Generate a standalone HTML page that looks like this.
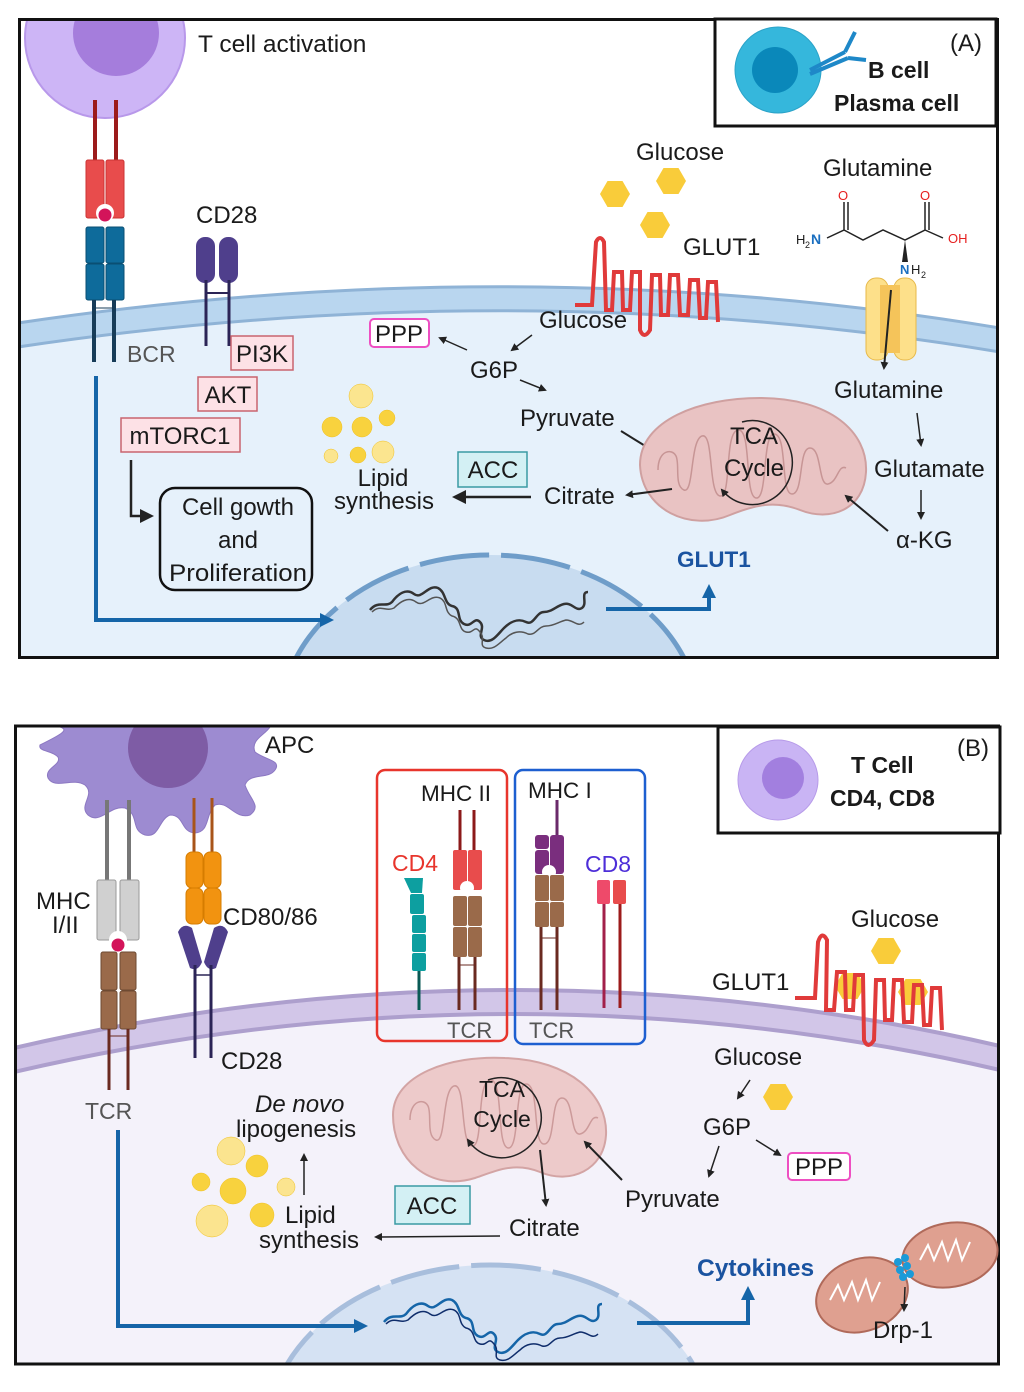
<!DOCTYPE html>
<html><head><meta charset="utf-8"><style>
html,body{margin:0;padding:0;background:#fff;width:1024px;height:1392px;overflow:hidden}
svg{display:block}
text{font-family:"Liberation Sans",sans-serif;fill:#1a1a1a}
</style></head><body>
<svg width="1024" height="1392" viewBox="0 0 1024 1392" xmlns="http://www.w3.org/2000/svg">
<defs>
<clipPath id="cA"><rect x="20" y="20" width="976" height="636"/></clipPath>
<clipPath id="cB"><rect x="16" y="727" width="982" height="636"/></clipPath>
<marker id="ah" markerWidth="8" markerHeight="8" refX="6" refY="4" orient="auto" markerUnits="userSpaceOnUse"><path d="M0,0 L8,4 L0,8 z" fill="#222"/></marker>
<marker id="ahB" markerWidth="14" markerHeight="14" refX="10" refY="7" orient="auto" markerUnits="userSpaceOnUse"><path d="M0,0 L14,7 L0,14 z" fill="#1565a8"/></marker>
<marker id="ahK" markerWidth="14" markerHeight="14" refX="10" refY="7" orient="auto" markerUnits="userSpaceOnUse"><path d="M0,0 L14,7 L0,14 z" fill="#222"/></marker>
<g id="hex"><polygon points="-15,0 -7.5,-13 7.5,-13 15,0 7.5,13 -7.5,13" fill="#f9cc3a"/></g>
</defs>

<!-- ================= PANEL A ================= -->
<g clip-path="url(#cA)">
<rect x="20" y="20" width="976" height="636" fill="#fff"/>
<path d="M18,335 Q520,260 1000,340 L1000,660 L18,660 z" fill="#e6f1fb"/>
<path d="M18,335 Q520,260 1000,340" fill="none" stroke="#b9d6ef" stroke-width="26"/>
<path d="M18,323 Q520,248 1000,328" fill="none" stroke="#8fb3d6" stroke-width="3"/>
<path d="M18,347 Q520,272 1000,352" fill="none" stroke="#8fb3d6" stroke-width="3"/>
<ellipse cx="490" cy="722" rx="210" ry="167" fill="#c8dcf0" stroke="#6f9dc9" stroke-width="5" stroke-dasharray="70,12"/>
<path d="M370,610 c8,-10 16,-2 22,-8 c6,-8 14,-14 22,-8 c8,6 14,-10 24,-6 c8,4 6,16 14,18 c10,2 4,14 12,18 c8,4 10,-8 16,-2 c6,6 -4,14 4,18 c8,4 14,-6 20,-12 c6,-6 14,-10 22,-6 c8,4 10,-10 18,-10 c8,0 12,-6 20,-8 c8,-2 12,8 18,4 c6,-4 -2,-16 6,-16" fill="none" stroke="#333" stroke-width="2.5"/>
<path d="M372,612 c8,-8 14,0 22,-4 c6,-6 14,-12 22,-6 c8,6 14,-8 24,-4 c8,4 4,14 12,18 c10,2 6,14 14,16 c8,2 8,-8 14,0 c6,6 -2,14 6,16 c8,2 12,-4 20,-10 c6,-6 14,-8 22,-4 c8,2 10,-8 18,-8 c8,0 12,-4 20,-6 c8,0 12,8 18,2" fill="none" stroke="#555" stroke-width="1.5"/>
<circle cx="105" cy="38" r="80" fill="#cdb5f6" stroke="#b898ea" stroke-width="2"/>
<circle cx="116" cy="33" r="43" fill="#a57ddc"/>
</g>
<rect x="19.5" y="19.5" width="978" height="638" fill="none" stroke="#111" stroke-width="3"/>
<text x="198" y="52" font-size="24.5">T cell activation</text>

<line x1="95" y1="100" x2="95" y2="165" stroke="#9c1b1b" stroke-width="4"/>
<line x1="116" y1="100" x2="116" y2="165" stroke="#9c1b1b" stroke-width="4"/>
<rect x="86" y="160" width="18" height="58" rx="2" fill="#e84c4c" stroke="#c33" stroke-width="1"/>
<rect x="106" y="160" width="18" height="58" rx="2" fill="#e84c4c" stroke="#c33" stroke-width="1"/>
<circle cx="105" cy="213" r="9" fill="#fff"/>
<circle cx="105" cy="215" r="6.5" fill="#d3145a"/>
<rect x="86" y="227" width="18" height="36" rx="2" fill="#0e6b9b" stroke="#0a4f73"/>
<rect x="106" y="227" width="18" height="36" rx="2" fill="#0e6b9b" stroke="#0a4f73"/>
<rect x="86" y="264" width="18" height="36" rx="2" fill="#0e6b9b" stroke="#0a4f73"/>
<rect x="106" y="264" width="18" height="36" rx="2" fill="#0e6b9b" stroke="#0a4f73"/>
<line x1="94" y1="300" x2="94" y2="362" stroke="#173c58" stroke-width="4"/>
<line x1="114" y1="300" x2="114" y2="362" stroke="#173c58" stroke-width="4"/>
<line x1="94" y1="308" x2="114" y2="308" stroke="#173c58" stroke-width="1"/>
<text x="127" y="362" font-size="23" style="fill:#555">BCR</text>
<text x="196" y="223" font-size="24">CD28</text>
<rect x="196" y="237" width="19" height="46" rx="9" fill="#4f3f8c"/>
<rect x="219" y="237" width="19" height="46" rx="9" fill="#4f3f8c"/>
<line x1="206" y1="280" x2="206" y2="346" stroke="#2b2456" stroke-width="3"/>
<line x1="229" y1="280" x2="229" y2="346" stroke="#2b2456" stroke-width="3"/>
<line x1="206" y1="293" x2="229" y2="293" stroke="#2b2456" stroke-width="2"/>
<rect x="231" y="336" width="62" height="34" fill="#fde1e6" stroke="#c8646f" stroke-width="1.5"/>
<text x="262" y="362" font-size="24" text-anchor="middle">PI3K</text>
<rect x="198" y="377" width="59" height="34" fill="#fde1e6" stroke="#c8646f" stroke-width="1.5"/>
<text x="228" y="403" font-size="24" text-anchor="middle">AKT</text>
<rect x="121" y="418" width="119" height="34" fill="#fde1e6" stroke="#c8646f" stroke-width="1.5"/>
<text x="180" y="444" font-size="24" text-anchor="middle">mTORC1</text>
<path d="M131,460 L131,516 L150,516" fill="none" stroke="#222" stroke-width="2.5" marker-end="url(#ahK)"/>
<rect x="160" y="488" width="152" height="102" rx="15" fill="none" stroke="#111" stroke-width="2.5"/>
<text x="238" y="515" font-size="24" text-anchor="middle">Cell gowth</text>
<text x="238" y="548" font-size="24" text-anchor="middle">and</text>
<text x="238" y="581" font-size="24" text-anchor="middle" textLength="138" lengthAdjust="spacingAndGlyphs">Proliferation</text>
<path d="M96,376 L96,620 L330,620" fill="none" stroke="#1565a8" stroke-width="4" marker-end="url(#ahB)"/>
<g fill="#f8d23e" stroke="#f0c020" stroke-width="0.5">
<circle cx="361" cy="396" r="12" fill="#fbe58f"/>
<circle cx="332" cy="427" r="10"/>
<circle cx="362" cy="427" r="10"/>
<circle cx="387" cy="418" r="8"/>
<circle cx="331" cy="456" r="7" fill="#fbe58f"/>
<circle cx="358" cy="455" r="8"/>
<circle cx="383" cy="452" r="11" fill="#fbe58f"/>
</g>
<text x="383" y="486" font-size="24" text-anchor="middle">Lipid</text>
<text x="384" y="509" font-size="24" text-anchor="middle">synthesis</text>
<rect x="458" y="452" width="69" height="35" fill="#d3f0f4" stroke="#3a9aa3" stroke-width="1.5"/>
<text x="493" y="478" font-size="24" text-anchor="middle">ACC</text>
<line x1="531" y1="497" x2="456" y2="497" stroke="#222" stroke-width="2.5" marker-end="url(#ahK)"/>
<text x="544" y="504" font-size="24">Citrate</text>
<rect x="370" y="319" width="59" height="28" rx="4" fill="#fff" stroke="#ee4fc2" stroke-width="2"/>
<text x="399" y="342" font-size="24" text-anchor="middle">PPP</text>
<line x1="467" y1="350" x2="440" y2="338" stroke="#222" stroke-width="1.5" marker-end="url(#ah)"/>
<text x="470" y="378" font-size="24">G6P</text>
<line x1="532" y1="335" x2="512" y2="350" stroke="#222" stroke-width="1.5" marker-end="url(#ah)"/>
<line x1="520" y1="380" x2="545" y2="390" stroke="#222" stroke-width="1.5" marker-end="url(#ah)"/>
<text x="539" y="328" font-size="24">Glucose</text>
<text x="520" y="426" font-size="24">Pyruvate</text>
<line x1="621" y1="431" x2="655" y2="452" stroke="#222" stroke-width="2" marker-end="url(#ah)"/>
<path d="M640,465 C640,420 700,398 760,398 C830,398 868,432 866,472 C864,510 830,522 800,510 C775,500 755,505 730,515 C690,532 642,510 640,465 z" fill="#e9c3c3" stroke="#cfa0a0" stroke-width="2"/>
<path d="M658,470 c0,-20 14,-22 18,-14 c4,8 -2,30 8,34 c10,4 6,-50 18,-54 c12,-4 6,58 18,60 c12,2 4,-64 18,-66 c14,-2 6,66 18,68 c12,2 6,-64 18,-64 c14,0 6,60 18,60 c12,0 6,-46 18,-46 c12,0 8,38 18,36 c10,-2 10,-20 18,-16" fill="none" stroke="#c79595" stroke-width="1.5"/>
<path d="M742,422 A40,42 0 1 1 722,490" fill="none" stroke="#222" stroke-width="1.5" marker-end="url(#ah)"/>
<text x="754" y="444" font-size="24" text-anchor="middle">TCA</text>
<text x="754" y="476" font-size="24" text-anchor="middle">Cycle</text>
<line x1="672" y1="489" x2="627" y2="495" stroke="#222" stroke-width="2" marker-end="url(#ah)"/>
<rect x="866" y="278" width="22" height="82" rx="10" fill="#fde08a" stroke="#e7b94a"/>
<rect x="894" y="278" width="22" height="82" rx="10" fill="#fde08a" stroke="#e7b94a"/>
<rect x="880" y="285" width="20" height="68" fill="#f5c45a"/>
<line x1="891" y1="290" x2="884" y2="368" stroke="#222" stroke-width="2" marker-end="url(#ah)"/>
<text x="834" y="398" font-size="24">Glutamine</text>
<line x1="917" y1="413" x2="921" y2="445" stroke="#222" stroke-width="1.5" marker-end="url(#ah)"/>
<text x="874" y="477" font-size="24">Glutamate</text>
<line x1="921" y1="490" x2="921" y2="518" stroke="#222" stroke-width="1.5" marker-end="url(#ah)"/>
<text x="896" y="548" font-size="24">α-KG</text>
<line x1="888" y1="531" x2="846" y2="496" stroke="#222" stroke-width="2" marker-end="url(#ah)"/>
<text x="677" y="567" font-size="22.5" font-weight="bold" style="fill:#1a53a0">GLUT1</text>
<path d="M606,609 L709,609 L709,588" fill="none" stroke="#1565a8" stroke-width="4" marker-end="url(#ahB)"/>
<text x="636" y="160" font-size="24">Glucose</text>
<use href="#hex" x="615" y="194"/><use href="#hex" x="671" y="181"/><use href="#hex" x="655" y="225"/>
<text x="683" y="255" font-size="24">GLUT1</text>
<path d="M575,305 L592,305 L596,242 Q600,234 604,242 L606,310 L612,310 L614,272 L622,272 L623,310 L630,310 L632,272 L640,272 L640,330 Q644,340 650,330 L652,275 L660,275 L661,315 L668,315 L670,275 L678,275 L680,315 L688,315 L690,280 L698,280 L700,318 L706,318 L708,282 L716,282 L718,322" fill="none" stroke="#e03a3a" stroke-width="4"/>
<text x="823" y="176" font-size="24">Glutamine</text>
<path d="M827,238 L844,230 L844,202 M848,230 L848,202 M844,230 L863,240 L883,230 L905,240 L925,230 L925,202 M929,230 L929,202 M925,230 L943,238" fill="none" stroke="#222" stroke-width="1.5"/>
<path d="M905,240 L902,262 L908,262 z" fill="#222"/>
<text x="838" y="200" font-size="13" style="fill:#e62020">O</text>
<text x="920" y="200" font-size="13" style="fill:#e62020">O</text>
<text x="796" y="244" font-size="13">H</text><text x="805" y="248" font-size="9">2</text><text x="811" y="244" font-size="14" font-weight="bold" style="fill:#1b6fc0">N</text>
<text x="948" y="243" font-size="13" style="fill:#e62020">OH</text>
<text x="900" y="274" font-size="13" font-weight="bold" style="fill:#1b6fc0">N</text><text x="911" y="274" font-size="13">H</text><text x="921" y="278" font-size="9">2</text>
<rect x="715" y="19" width="281" height="107" fill="#fff" stroke="#111" stroke-width="3"/>
<circle cx="778" cy="70" r="43" fill="#35b7dc" stroke="#2ba3c8"/>
<circle cx="775" cy="70" r="23" fill="#0a88ba"/>
<path d="M810,70 L845,52 M810,74 L848,58 M845,52 L855,32 M848,58 L866,60" fill="none" stroke="#1e88c8" stroke-width="4"/>
<text x="868" y="78" font-size="23" font-weight="bold">B cell</text>
<text x="834" y="111" font-size="23" font-weight="bold">Plasma cell</text>
<text x="950" y="51" font-size="24">(A)</text>

<!-- ================= PANEL B ================= -->
<g clip-path="url(#cB)">
<rect x="16" y="727" width="984" height="638" fill="#fff"/>
<path d="M14,1060 Q510,945 1000,1058 L1000,1370 L14,1370 z" fill="#f4f2fa"/>
<path d="M14,1060 Q510,945 1000,1058" fill="none" stroke="#d2c6e8" stroke-width="26"/>
<path d="M14,1048 Q510,933 1000,1046" fill="none" stroke="#ad9fcd" stroke-width="4"/>
<path d="M14,1072 Q510,957 1000,1070" fill="none" stroke="#ad9fcd" stroke-width="4"/>
<ellipse cx="490" cy="1432" rx="222" ry="167" fill="#d5e2f3" stroke="#a8bedc" stroke-width="5" stroke-dasharray="70,12"/>
<path d="M384,1322 c8,-10 16,-2 22,-8 c6,-8 14,-14 22,-8 c8,6 14,-10 24,-6 c8,4 6,16 14,18 c10,2 4,14 12,18 c8,4 10,-8 16,-2 c6,6 -4,14 4,18 c8,4 14,-6 20,-12 c6,-6 14,-10 22,-6 c8,4 10,-10 18,-10 c8,0 12,-6 20,-8 c8,-2 12,8 18,4 c6,-4 -2,-16 6,-16" fill="none" stroke="#1565a8" stroke-width="2.5"/>
<path d="M386,1324 c8,-8 14,0 22,-4 c6,-6 14,-12 22,-6 c8,6 14,-8 24,-4 c8,4 4,14 12,18 c10,2 6,14 14,16 c8,2 8,-8 14,0 c6,6 -2,14 6,16 c8,2 12,-4 20,-10 c6,-6 14,-8 22,-4 c8,2 10,-8 18,-8 c8,0 12,-4 20,-6 c8,0 12,8 18,2" fill="none" stroke="#0f2d6b" stroke-width="1.5"/>
<path d="M40,745 C60,735 70,730 60,727 L270,727 C265,735 250,740 255,752 C265,760 282,760 275,770 C268,780 250,772 245,785 C250,800 262,806 250,815 C235,820 228,800 215,805 C205,815 210,832 195,833 C180,832 185,815 170,815 C158,820 160,838 145,835 C130,830 140,815 125,808 C110,805 100,825 88,815 C78,805 96,795 85,785 C72,777 55,790 48,778 C44,768 62,765 58,757 C52,750 38,752 40,745 z" fill="#9d8bd1" stroke="#8c78c2"/>
<circle cx="168" cy="748" r="40" fill="#7e5ca5"/>
</g>
<rect x="15.5" y="726" width="983" height="638" fill="none" stroke="#111" stroke-width="3"/>
<text x="265" y="753" font-size="24">APC</text>
<line x1="107" y1="800" x2="107" y2="885" stroke="#777" stroke-width="4"/>
<line x1="129" y1="800" x2="129" y2="885" stroke="#777" stroke-width="4"/>
<rect x="97" y="880" width="19" height="60" rx="2" fill="#d0d0d0" stroke="#9a9a9a"/>
<rect x="120" y="880" width="19" height="60" rx="2" fill="#d0d0d0" stroke="#9a9a9a"/>
<circle cx="118" cy="940" r="9" fill="#fff"/>
<circle cx="118" cy="945" r="6.5" fill="#d3145a"/>
<rect x="101" y="952" width="16" height="38" rx="2" fill="#9a6a4a" stroke="#6e4a32"/>
<rect x="120" y="952" width="16" height="38" rx="2" fill="#9a6a4a" stroke="#6e4a32"/>
<rect x="101" y="991" width="16" height="38" rx="2" fill="#9a6a4a" stroke="#6e4a32"/>
<rect x="120" y="991" width="16" height="38" rx="2" fill="#9a6a4a" stroke="#6e4a32"/>
<line x1="109" y1="1029" x2="109" y2="1090" stroke="#6a2a20" stroke-width="3"/>
<line x1="128" y1="1029" x2="128" y2="1090" stroke="#6a2a20" stroke-width="3"/>
<line x1="109" y1="1036" x2="128" y2="1036" stroke="#6a2a20" stroke-width="1"/>
<text x="36" y="909" font-size="24">MHC</text>
<text x="52" y="933" font-size="24">I/II</text>
<text x="85" y="1119" font-size="23" style="fill:#555">TCR</text>
<line x1="194" y1="798" x2="194" y2="855" stroke="#a8541a" stroke-width="3"/>
<line x1="212" y1="798" x2="212" y2="855" stroke="#a8541a" stroke-width="3"/>
<rect x="186" y="852" width="17" height="36" rx="6" fill="#f29310" stroke="#d67c00"/>
<rect x="204" y="852" width="17" height="36" rx="6" fill="#f29310" stroke="#d67c00"/>
<rect x="186" y="888" width="17" height="36" rx="6" fill="#f29310" stroke="#d67c00"/>
<rect x="204" y="888" width="17" height="36" rx="6" fill="#f29310" stroke="#d67c00"/>
<path d="M178,932 Q183,922 192,928 L202,962 Q198,972 190,968 z" fill="#4f3f8c"/>
<path d="M228,932 Q223,922 214,928 L204,962 Q208,972 216,968 z" fill="#4f3f8c"/>
<line x1="195" y1="965" x2="195" y2="1058" stroke="#2b2456" stroke-width="3"/>
<line x1="211" y1="965" x2="211" y2="1058" stroke="#2b2456" stroke-width="3"/>
<line x1="195" y1="975" x2="211" y2="975" stroke="#2b2456" stroke-width="1.5"/>
<text x="223" y="925" font-size="24">CD80/86</text>
<text x="221" y="1069" font-size="24">CD28</text>
<rect x="377" y="770" width="130" height="271" rx="8" fill="none" stroke="#e8352c" stroke-width="2.5"/>
<text x="421" y="801" font-size="22.5">MHC II</text>
<text x="392" y="871" font-size="23" style="fill:#e8352c">CD4</text>
<path d="M404,878 L423,878 L422,893 L411,893 z" fill="#0d9fa0"/>
<rect x="410" y="894" width="14" height="20" rx="2" fill="#0d9fa0"/>
<rect x="412" y="915" width="14" height="18" rx="2" fill="#0d9fa0"/>
<rect x="412" y="934" width="14" height="18" rx="2" fill="#0d9fa0"/>
<rect x="412" y="953" width="14" height="18" rx="2" fill="#0d9fa0"/>
<line x1="419" y1="971" x2="419" y2="1010" stroke="#0a5a55" stroke-width="3"/>
<line x1="460" y1="810" x2="460" y2="855" stroke="#8c1a1a" stroke-width="3"/>
<line x1="474" y1="810" x2="474" y2="855" stroke="#8c1a1a" stroke-width="3"/>
<rect x="453" y="850" width="14" height="40" rx="2" fill="#e84c4c"/>
<rect x="468" y="850" width="14" height="40" rx="2" fill="#e84c4c"/>
<circle cx="467" cy="888" r="7" fill="#fff"/>
<rect x="453" y="896" width="14" height="30" rx="2" fill="#9a6a4a"/>
<rect x="468" y="896" width="14" height="30" rx="2" fill="#9a6a4a"/>
<rect x="453" y="927" width="14" height="30" rx="2" fill="#9a6a4a"/>
<rect x="468" y="927" width="14" height="30" rx="2" fill="#9a6a4a"/>
<line x1="459" y1="957" x2="459" y2="1010" stroke="#6a2a20" stroke-width="3"/>
<line x1="475" y1="957" x2="475" y2="1010" stroke="#6a2a20" stroke-width="3"/>
<line x1="459" y1="965" x2="475" y2="965" stroke="#6a2a20" stroke-width="1"/>
<text x="447" y="1038" font-size="22" style="fill:#555">TCR</text>
<rect x="515" y="770" width="130" height="274" rx="8" fill="none" stroke="#1d5fd0" stroke-width="2.5"/>
<text x="528" y="798" font-size="22.5">MHC I</text>
<text x="585" y="872" font-size="23" style="fill:#4d2ed8">CD8</text>
<line x1="557" y1="800" x2="557" y2="840" stroke="#6a2a6a" stroke-width="3"/>
<rect x="535" y="835" width="14" height="14" rx="3" fill="#7a2e7e"/>
<rect x="535" y="850" width="14" height="24" rx="3" fill="#7a2e7e"/>
<rect x="550" y="835" width="14" height="39" rx="3" fill="#7a2e7e"/>
<circle cx="549" cy="872" r="7" fill="#fff"/>
<rect x="535" y="875" width="14" height="26" rx="2" fill="#9a6a4a"/>
<rect x="550" y="875" width="14" height="26" rx="2" fill="#9a6a4a"/>
<rect x="535" y="902" width="14" height="25" rx="2" fill="#9a6a4a"/>
<rect x="550" y="902" width="14" height="25" rx="2" fill="#9a6a4a"/>
<line x1="541" y1="927" x2="541" y2="1010" stroke="#6a2a20" stroke-width="3"/>
<line x1="557" y1="927" x2="557" y2="1010" stroke="#6a2a20" stroke-width="3"/>
<line x1="541" y1="938" x2="557" y2="938" stroke="#6a2a20" stroke-width="1"/>
<rect x="597" y="880" width="13" height="24" rx="2" fill="#ee4a6a"/>
<rect x="613" y="880" width="13" height="24" rx="2" fill="#e84c4c"/>
<line x1="604" y1="904" x2="604" y2="1008" stroke="#a2204a" stroke-width="3"/>
<line x1="620" y1="904" x2="620" y2="1008" stroke="#9c1b1b" stroke-width="3"/>
<text x="529" y="1038" font-size="22" style="fill:#555">TCR</text>
<path d="M393,1115 C393,1075 450,1055 505,1058 C570,1060 608,1095 606,1135 C604,1170 570,1185 540,1172 C515,1162 498,1170 475,1178 C430,1192 393,1160 393,1115 z" fill="#edcaca" stroke="#d3a4a4" stroke-width="2"/>
<path d="M410,1120 c0,-20 14,-22 18,-14 c4,8 -2,30 8,34 c10,4 6,-50 18,-54 c12,-4 6,58 18,60 c12,2 4,-64 18,-66 c14,-2 6,66 18,68 c12,2 6,-64 18,-64 c14,0 6,60 18,60 c12,0 6,-46 18,-46 c12,0 8,38 18,36 c10,-2 10,-20 18,-16" fill="none" stroke="#cc9a9a" stroke-width="1.5"/>
<path d="M488,1080 A40,40 0 1 1 468,1140" fill="none" stroke="#222" stroke-width="1.5" marker-end="url(#ah)"/>
<text x="502" y="1097" font-size="23" text-anchor="middle">TCA</text>
<text x="502" y="1127" font-size="23" text-anchor="middle">Cycle</text>
<line x1="540" y1="1150" x2="546" y2="1205" stroke="#222" stroke-width="2" marker-end="url(#ah)"/>
<text x="509" y="1236" font-size="24">Citrate</text>
<line x1="500" y1="1236" x2="376" y2="1237" stroke="#222" stroke-width="1.5" marker-end="url(#ah)"/>
<rect x="395" y="1186" width="75" height="38" fill="#d3f0f4" stroke="#3a9aa3" stroke-width="1.5"/>
<text x="432" y="1214" font-size="24" text-anchor="middle">ACC</text>
<text x="255" y="1112" font-size="24" font-style="italic">De novo</text>
<text x="236" y="1137" font-size="24">lipogenesis</text>
<line x1="304" y1="1195" x2="304" y2="1155" stroke="#222" stroke-width="1.5" marker-end="url(#ah)"/>
<text x="285" y="1223" font-size="24">Lipid</text>
<text x="259" y="1248" font-size="24">synthesis</text>
<g fill="#f8d23e" stroke="#f0c020" stroke-width="0.5">
<circle cx="231" cy="1151" r="14" fill="#fbe48f"/>
<circle cx="257" cy="1166" r="11"/>
<circle cx="201" cy="1182" r="9"/>
<circle cx="233" cy="1191" r="13"/>
<circle cx="286" cy="1187" r="9" fill="#fbe48f"/>
<circle cx="212" cy="1221" r="16" fill="#fbe48f"/>
<circle cx="262" cy="1215" r="12"/>
</g>
<text x="625" y="1207" font-size="24">Pyruvate</text>
<line x1="622" y1="1180" x2="585" y2="1142" stroke="#222" stroke-width="2" marker-end="url(#ah)"/>
<text x="703" y="1135" font-size="24">G6P</text>
<line x1="719" y1="1146" x2="709" y2="1176" stroke="#222" stroke-width="1.5" marker-end="url(#ah)"/>
<line x1="756" y1="1140" x2="780" y2="1155" stroke="#222" stroke-width="1.5" marker-end="url(#ah)"/>
<rect x="788" y="1153" width="62" height="27" rx="4" fill="#fff" stroke="#ee4fc2" stroke-width="2"/>
<text x="819" y="1175" font-size="24" text-anchor="middle">PPP</text>
<text x="714" y="1065" font-size="24">Glucose</text>
<line x1="750" y1="1080" x2="738" y2="1098" stroke="#222" stroke-width="1.5" marker-end="url(#ah)"/>
<use href="#hex" x="778" y="1097"/>
<text x="712" y="990" font-size="24">GLUT1</text>
<text x="851" y="927" font-size="24">Glucose</text>
<use href="#hex" x="886" y="951"/><use href="#hex" x="850" y="986"/><use href="#hex" x="913" y="992"/>
<path d="M795,998 L815,998 L818,942 Q822,930 827,940 L826,1010 L834,1010 L837,972 L845,972 L846,1010 L853,1010 L855,975 L863,975 L864,1040 Q868,1050 874,1040 L876,980 L884,980 L885,1020 L892,1020 L894,980 L902,980 L904,1022 L912,1022 L914,985 L922,985 L924,1025 L930,1025 L932,988 L940,988 L942,1030" fill="none" stroke="#e03a3a" stroke-width="4"/>
<path d="M118,1130 L118,1326 L364,1326" fill="none" stroke="#1565a8" stroke-width="4" marker-end="url(#ahB)"/>
<text x="697" y="1276" font-size="24.5" font-weight="bold" style="fill:#1a53a0">Cytokines</text>
<path d="M637,1323 L748,1323 L748,1290" fill="none" stroke="#1565a8" stroke-width="4" marker-end="url(#ahB)"/>
<ellipse cx="862" cy="1295" rx="47" ry="36" fill="#dfa090" stroke="#b06a5a" stroke-width="2" transform="rotate(-20 862 1295)"/>
<ellipse cx="950" cy="1255" rx="48" ry="32" fill="#dfa090" stroke="#b06a5a" stroke-width="2" transform="rotate(-10 950 1255)"/>
<path d="M830,1300 l8,-15 l6,15 l8,-18 l6,18 l8,-20 l6,20 l8,-18 M920,1260 l8,-15 l6,15 l8,-18 l6,18 l8,-20 l6,20 l8,-18" fill="none" stroke="#fff" stroke-width="2"/>
<g fill="#1b9ad8"><circle cx="898" cy="1262" r="4"/><circle cx="905" cy="1258" r="4"/><circle cx="900" cy="1270" r="4"/><circle cx="907" cy="1266" r="4"/><circle cx="903" cy="1277" r="4"/><circle cx="910" cy="1274" r="4"/></g>
<line x1="905" y1="1287" x2="904" y2="1310" stroke="#222" stroke-width="1.5" marker-end="url(#ah)"/>
<text x="873" y="1338" font-size="24">Drp-1</text>
<rect x="718" y="727" width="282" height="106" fill="#fff" stroke="#111" stroke-width="3"/>
<circle cx="778" cy="780" r="40" fill="#c9b4f4" stroke="#b79be9"/>
<circle cx="783" cy="778" r="21" fill="#a27fdf"/>
<text x="851" y="773" font-size="23" font-weight="bold">T Cell</text>
<text x="830" y="806" font-size="23" font-weight="bold">CD4, CD8</text>
<text x="957" y="756" font-size="24">(B)</text>
</svg>
</body></html>
